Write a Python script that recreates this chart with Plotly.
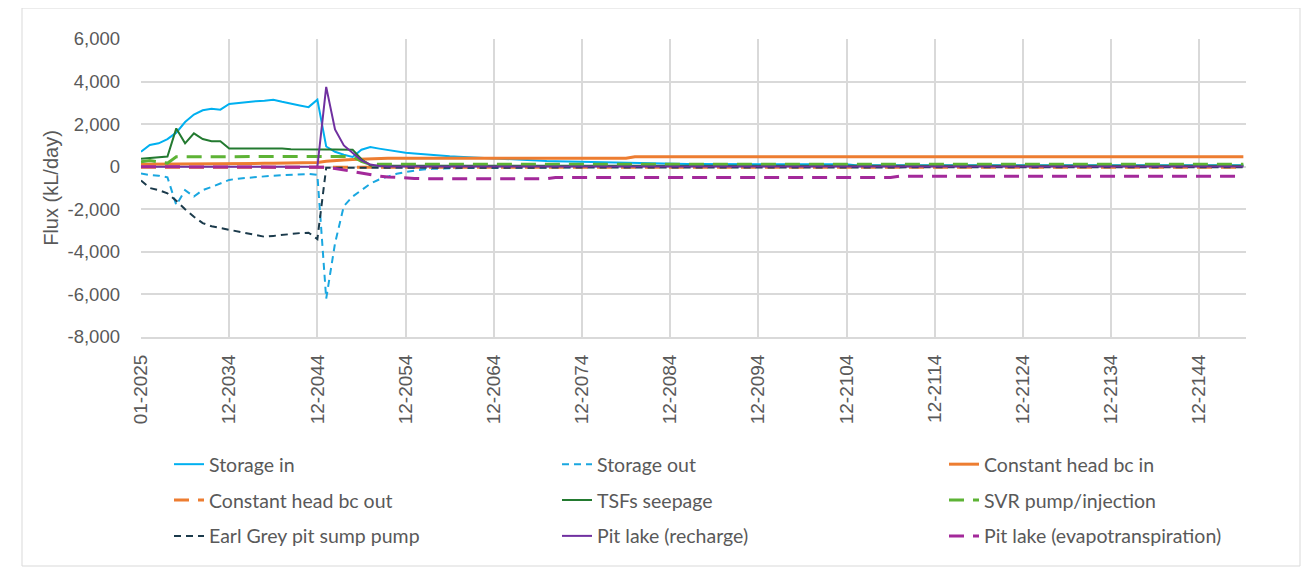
import plotly.graph_objects as go

# x index: 0 = 01-2025, then one point per December (12-2025 ... 12-2149)
tick_positions = [0, 10, 20, 30, 40, 50, 60, 70, 80, 90, 100, 110, 120]
tick_labels = ["01-2025", "12-2034", "12-2044", "12-2054", "12-2064", "12-2074", "12-2084",
               "12-2094", "12-2104", "12-2114", "12-2124", "12-2134", "12-2144"]
y_ticks = [-8000, -6000, -4000, -2000, 0, 2000, 4000, 6000]
y_tick_labels = ["-8,000", "-6,000", "-4,000", "-2,000", "0", "2,000", "4,000", "6,000"]

n_points = 126

storage_in = ([700, 1020, 1100, 1300, 1600, 2100, 2450, 2650, 2720, 2680,
               2950, 3000, 3020, 3080, 3100, 3150, 3050, 2950, 2880, 2800,
               3150, 950, 700, 560, 460, 800, 920, 850, 780, 720,
               660, 620, 580, 540, 510, 490, 470, 450, 420, 390,
               360, 340, 320, 300, 290, 280, 270, 260, 250, 240,
               230, 220, 210, 200, 185, 170, 160, 155, 150, 145,
               140, 135, 130, 130, 125, 125, 120, 120, 120, 115,
               115, 115, 115, 110, 110, 110, 110, 110, 110, 110, 110]
              + [70] * 45)

storage_out = ([-320, -390, -420, -500, -1800, -1100, -1400, -1100, -950, -800,
                -620, -560, -520, -490, -460, -420, -400, -380, -360, -340,
                -380, -6200, -3600, -1850, -1400, -1100, -800, -600, -450, -330,
                -250, -180, -130, -100, -80, -70, -60, -55, -50, -45,
                -40, -35, -30, -30, -28, -25]
               + [-10] * 80)

ch_in = ([120, 125, 128, 130, 133, 135, 138, 140, 143, 145,
          148, 150, 153, 155, 158, 160, 165, 170, 175, 180,
          200, 260, 300, 320, 340, 360, 380]
         + [395] * 29
         + [470] * 70)

ch_out = [-20] * n_points

tsf = ([380, 420, 440, 480, 1800, 1100, 1570, 1300, 1200, 1200,
        860, 860, 860, 860, 860, 860, 850, 820, 810, 810,
        810, 810, 810, 810, 800, 350, 60]
       + [40] * 99)

svr = ([235, 290, 230, 170, 470, 470, 470, 470, 470, 470,
        470, 470, 470, 470, 470, 470, 470, 470, 470, 470,
        470, 470, 470, 470, 480, 250]
       + [110] * 100)

earl_grey = ([-650, -1000, -1100, -1250, -1600, -2000, -2350, -2650, -2800, -2880,
              -2950, -3050, -3130, -3220, -3290, -3250, -3200, -3150, -3120, -3100,
              -3400, -50, -50, -50, -50, -50, -50]
             + [-20] * 99)

pit_recharge = ([0] * 21
                + [3750, 1750, 1000, 650, 300, 100, 30]
                + [10] * 98)

pit_et = ([0] * 21
          + [-30, -80, -150, -220, -300, -380, -440, -480, -510,
             -530, -550, -560, -560, -570]
          + [-560] * 12
          + [-505] * 39
          + [-445] * 40)

x_vals = list(range(n_points))

# (name, values, colour, width, dash, legend column)
series = [
    ("Storage in", storage_in, "#00B0F0", 2, "solid", "legend"),
    ("Storage out", storage_out, "#1AA7E0", 2, "7px,5px", "legend2"),
    ("Constant head bc in", ch_in, "#ED7D31", 3, "solid", "legend3"),
    ("Constant head bc out", ch_out, "#ED7D31", 3, "15px,9px", "legend"),
    ("TSFs seepage", tsf, "#237A30", 2, "solid", "legend2"),
    ("SVR pump/injection", svr, "#5DB335", 3, "15px,9px", "legend3"),
    ("Earl Grey pit sump pump", earl_grey, "#1B3A4B", 2, "7px,5px", "legend"),
    ("Pit lake (recharge)", pit_recharge, "#7030A0", 2, "solid", "legend2"),
    ("Pit lake (evapotranspiration)", pit_et, "#A3299A", 3, "15px,9px", "legend3"),
]

fig = go.Figure()
for name, vals, color, w, dash, lg in series:
    fig.add_trace(go.Scatter(x=x_vals, y=vals, mode="lines", name=name,
                             line=dict(color=color, width=w, dash=dash),
                             legend=lg, legendgroup=name))

legend_font = dict(family="Lato, Noto Sans, sans-serif", size=19.5, color="#595959")
common_legend = dict(orientation="v", xanchor="left", yanchor="top",
                     font=legend_font, bgcolor="rgba(0,0,0,0)",
                     tracegroupgap=7.5, itemwidth=30)
legend_top = (337 - 445) / 298

fig.update_layout(
    width=1312, height=571,
    margin=dict(l=133, r=74, t=31, b=242),
    paper_bgcolor="white", plot_bgcolor="white",
    font=dict(family="Liberation Sans, Arial, sans-serif", size=18, color="#595959"),
    legend=dict(x=(169 - 141) / 1105, y=legend_top, **common_legend),
    legend2=dict(x=(557 - 141) / 1105, y=legend_top, **common_legend),
    legend3=dict(x=(944 - 141) / 1105, y=legend_top, **common_legend),
    xaxis=dict(range=[0, 125.3], tickvals=tick_positions, ticktext=tick_labels,
               tickangle=-90, showgrid=True, gridcolor="#D9D9D9", gridwidth=2,
               showline=True, linecolor="#D9D9D9", linewidth=2, zeroline=False,
               tickfont=dict(size=19, color="#595959"), ticks="", ticklabelstandoff=8,
               automargin=False),
    yaxis=dict(range=[-8000, 6000], tickvals=y_ticks, ticktext=y_tick_labels,
               showgrid=True, gridcolor="#D9D9D9", gridwidth=2, zeroline=False,
               showline=False, automargin=False,
               tickfont=dict(size=18.5, color="#595959"), ticks="", ticklabelstandoff=20,
               title=dict(text="Flux (kL/day)", font=dict(size=20, color="#595959"),
                          standoff=3)),
    showlegend=True,
)

# outer chart border
fig.add_shape(type="rect", xref="paper", yref="paper",
              x0=(22 - 141) / 1105, x1=(1300 - 141) / 1105,
              y0=(337 - 566) / 298, y1=(337 - 8) / 298,
              line=dict(color="#D9D9D9", width=1), layer="below")

fig.write_html("out.html")
